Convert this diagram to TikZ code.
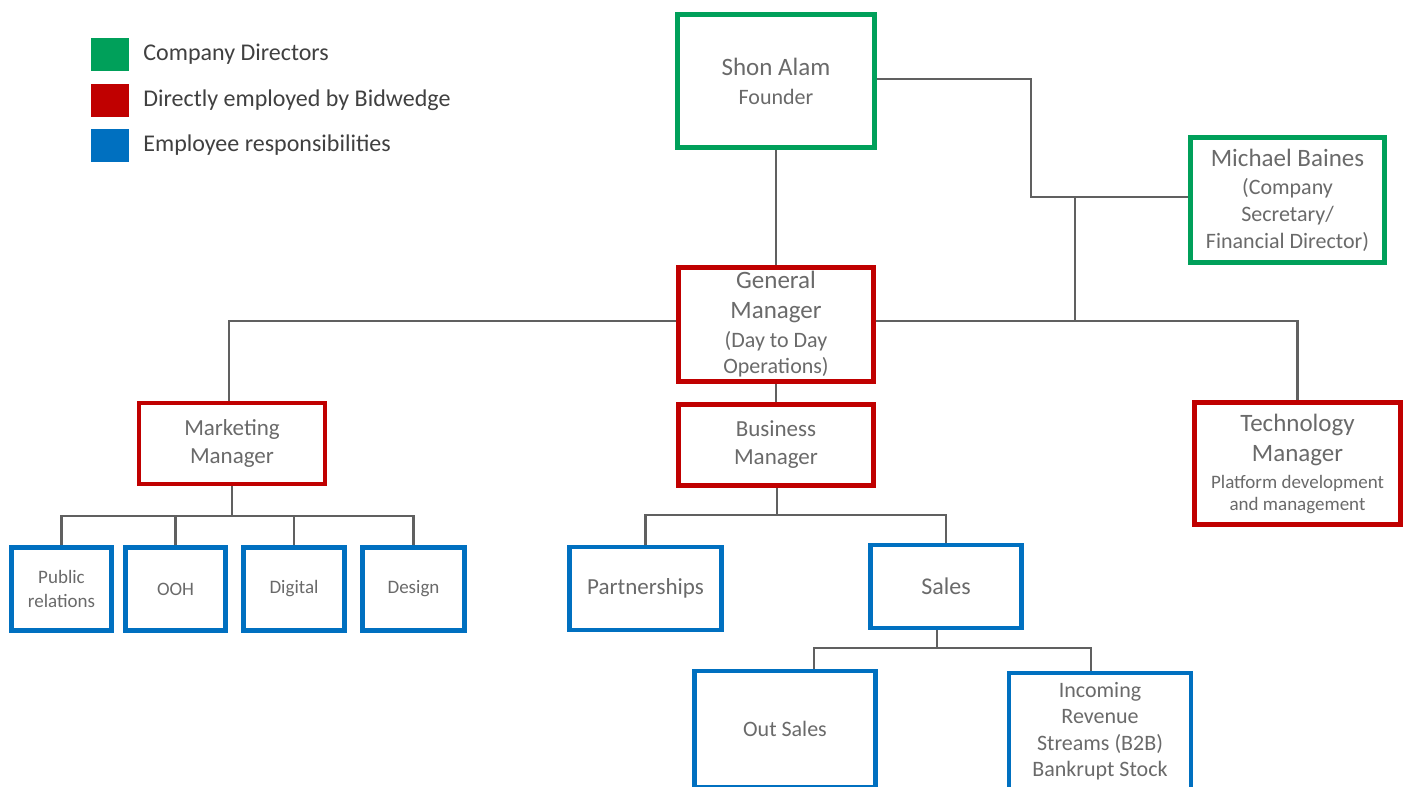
\documentclass[tikz,border=0pt]{standalone}
\usepackage{fontspec}
\setmainfont{Carlito}
\usetikzlibrary{positioning}

\definecolor{dirgreen}{HTML}{00A05A}
\definecolor{empred}{HTML}{C00000}
\definecolor{respblue}{HTML}{0070C0}
\definecolor{linkgray}{HTML}{606060}
\definecolor{boxtext}{HTML}{6A6A6A}
\definecolor{legtext}{HTML}{404040}

\newcommand{\orgtitle}{\fontsize{25}{30}\selectfont}
\newcommand{\orgsub}{\fontsize{22}{27}\selectfont}
\newcommand{\orgsmall}{\fontsize{19}{24}\selectfont}

\begin{document}
\begin{tikzpicture}[
    x=1pt, y=-1pt,
    orgbox/.style={rectangle, draw, fill=white, line width=4.5pt, inner sep=0pt, align=center, text=boxtext},
    dirbox/.style={orgbox, draw=dirgreen},
    empbox/.style={orgbox, draw=empred},
    respbox/.style={orgbox, draw=respblue},
    link/.style={draw=linkgray, line width=2.8pt},
    legsq/.style={rectangle, inner sep=0pt, minimum width=38pt, minimum height=33pt},
    legtext/.style={anchor=west, inner sep=0pt, text=legtext, font=\fontsize{24}{29}\selectfont}
]
\useasboundingbox (0,0) rectangle (1411,787);
\clip (0,0) rectangle (1411,787);

% legend
\node[legsq, fill=dirgreen] (lgdir) at (110,54.5) {};
\node[legsq, fill=empred] (lgemp) at (110,100.5) {};
\node[legsq, fill=respblue] (lgresp) at (110,145.5) {};
\node[legtext, right=14pt of lgdir] (lgdirtxt) {Company Directors};
\node[legtext, right=14pt of lgemp] (lgemptxt) {Directly employed by Bidwedge};
\node[legtext, right=14pt of lgresp] (lgresptxt) {Employee responsibilities};

% joints of the connectors
\coordinate (secbend) at (1031,197);
\coordinate (secjoin) at (1075,197);
\coordinate (gmbar) at (1075,321);
\coordinate (mktbar) at (232,516);
\coordinate (bmbar) at (777,515);
\coordinate (salesbar) at (937,648);

% boxes
\node[dirbox, minimum width=197pt, minimum height=133pt, font=\fontsize{22}{29}\selectfont] (shon) at (776,81)
    {{\orgtitle Shon Alam}\\Founder};
\node[dirbox, minimum width=194pt, minimum height=125pt, font=\fontsize{22}{27}\selectfont] (michael) at (1287.5,200)
    {{\orgtitle Michael Baines}\\[1pt](Company\\Secretary/\\Financial Director)};
\node[empbox, minimum width=195pt, minimum height=114pt, font=\fontsize{22}{28}\selectfont] (gm) at (776,324.5)
    {{\orgtitle General}\\[2pt]{\orgtitle Manager}\\[1pt](Day to Day\\[-2pt]Operations)};
\node[empbox, minimum width=186pt, minimum height=81pt, font=\fontsize{23}{28}\selectfont] (mkt) at (232,443.5)
    {Marketing\\Manager};
\node[empbox, minimum width=195pt, minimum height=81pt, font=\fontsize{23}{28}\selectfont] (bm) at (776,445)
    {Business\\Manager};
\node[empbox, minimum width=206pt, minimum height=122pt, font=\fontsize{19}{22}\selectfont] (tech) at (1297.5,463.5)
    {{\orgtitle Technology}\\[8pt]{\orgtitle Manager}\\[5pt]Platform development\\and management};

\node[respbox, minimum width=100pt, minimum height=83pt, font=\fontsize{19}{24}\selectfont] (pr) at (61.5,589)
    {Public\\relations};
\node[respbox, minimum width=100pt, minimum height=83pt, font=\orgsmall] (ooh) at (175.5,589)
    {OOH};
\node[respbox, minimum width=101pt, minimum height=83pt, font=\orgsmall] (dig) at (294,589)
    {Digital};
\node[respbox, minimum width=102pt, minimum height=83pt, font=\orgsmall] (des) at (413.5,589)
    {Design};

\node[respbox, minimum width=152pt, minimum height=83pt, font=\fontsize{23}{28}\selectfont] (part) at (645.5,588.5)
    {Partnerships};
\node[respbox, minimum width=151pt, minimum height=83pt, font=\fontsize{24}{28}\selectfont] (sales) at (946,586.5)
    {Sales};

\node[respbox, minimum width=181pt, minimum height=116pt, font=\orgsub] (out) at (785,729)
    {Out Sales};
\node[respbox, minimum width=182pt, minimum height=116pt, font=\fontsize{22}{26.5}\selectfont] (inc) at (1100,731)
    {Incoming\\Revenue\\Streams (B2B)\\Bankrupt Stock};

% connectors
\draw[link] (shon) -- (gm);
\draw[link] ([yshift=2pt]shon.east) -| (secbend) -- (michael.west |- secbend);
\draw[link] (secjoin) -- (gmbar);
\draw[link] ([yshift=3.5pt]gm.west) -| ([xshift=-3pt]mkt.north);
\draw[link] ([yshift=3.5pt]gm.east) -| (tech.north);
\draw[link] (gm) -- (bm);

\draw[link] (mkt.south) -- (mktbar);
\draw[link] (pr.north) |- (mktbar -| des.north) -- (des.north);
\foreach \kid in {ooh,dig}
    \draw[link] (\kid.north) -- (\kid.north |- mktbar);

\draw[link] ([xshift=1pt]bm.south) -- (bmbar);
\draw[link] (part.north) |- (bmbar -| sales.north) -- (sales.north);

\draw[link] ([xshift=-9pt]sales.south) -- (salesbar);
\draw[link] ([xshift=29pt]out.north) |- (salesbar) -| ([xshift=-9pt]inc.north);
\end{tikzpicture}
\end{document}
